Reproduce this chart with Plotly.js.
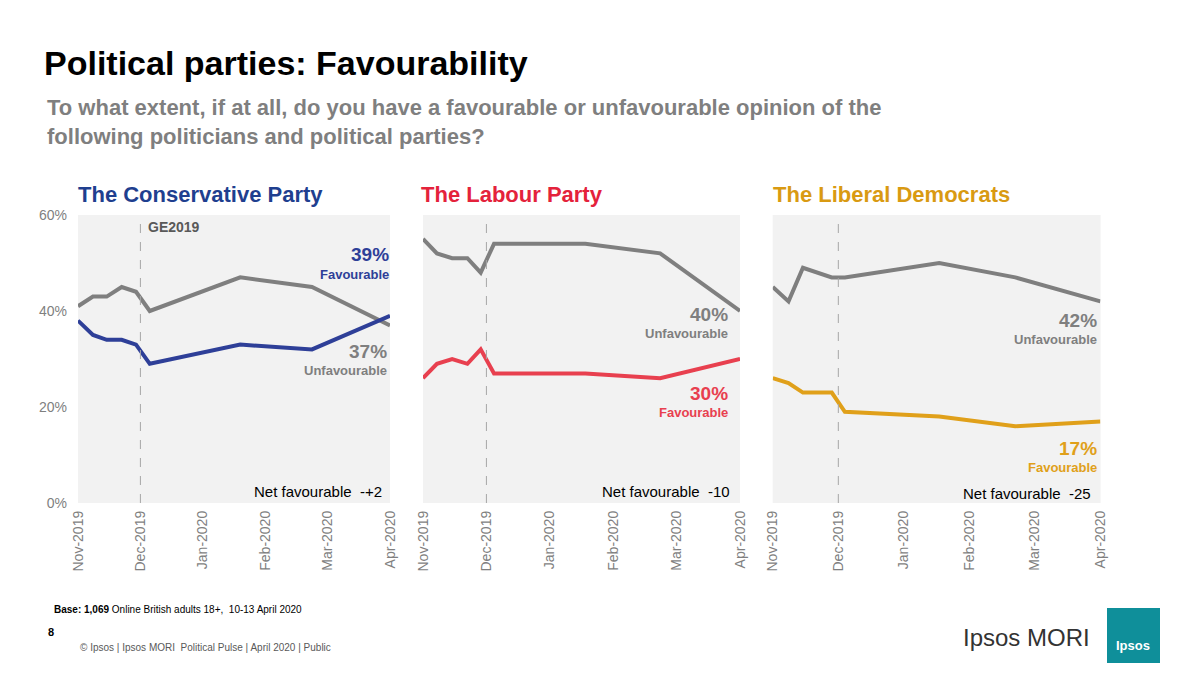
<!DOCTYPE html>
<html><head><meta charset="utf-8">
<script src="https://cdn.plot.ly/plotly-3.0.1.min.js"></script>
<style>body{margin:0}#c{width:1200px;height:675px}</style></head>
<body><div id="c"></div>
<script>
const months = ['Nov-2019','Dec-2019','Jan-2020','Feb-2020','Mar-2020','Apr-2020'];
// positions measured in month units from Nov-2019
const conX = [0, 0.24, 0.46, 0.7, 0.93, 1.15, 2.6, 3.75, 5];
const conFav = [38, 35, 34, 34, 33, 29, 33, 32, 39];
const conUnfav = [41, 43, 43, 45, 44, 40, 47, 45, 37];
const labX = [0, 0.22, 0.46, 0.7, 0.91, 1.12, 2.56, 3.74, 5];
const labFav = [26, 29, 30, 29, 32, 27, 27, 26, 30];
const labUnfav = [55, 52, 51, 51, 48, 54, 54, 52, 40];
const ldX = [0, 0.24, 0.46, 0.9, 1.1, 2.54, 3.7, 5];
const ldFav = [26, 25, 23, 23, 19, 18, 16, 17];
const ldUnfav = [45, 42, 49, 47, 47, 50, 47, 42];

const GREY = '#7f7f7f', BLUE = '#2e3f98', RED = '#e8404f', GOLD = '#e0a01a';
const doms = [[0.065, 0.325], [0.3525, 0.6167], [0.644, 0.917]];
const yd = [0.2548, 0.6815];

const data = [];
function add(i, x, fav, unf, col) {
  const ax = i === 0 ? '' : String(i + 1);
  data.push({x: x, y: unf, xaxis: 'x' + ax, yaxis: 'y' + ax, mode: 'lines', line: {color: GREY, width: 4}});
  data.push({x: x, y: fav, xaxis: 'x' + ax, yaxis: 'y' + ax, mode: 'lines', line: {color: col, width: 4}});
}
add(0, conX, conFav, conUnfav, BLUE);
add(1, labX, labFav, labUnfav, RED);
add(2, ldX, ldFav, ldUnfav, GOLD);

const layout = {
  width: 1200, height: 675, showlegend: false,
  margin: {l: 0, r: 0, t: 0, b: 0},
  paper_bgcolor: '#fff', plot_bgcolor: '#f2f2f2',
  font: {family: 'Arial, Liberation Sans', color: '#595959'},
  shapes: [], annotations: []
};
for (let i = 0; i < 3; i++) {
  const ax = i === 0 ? '' : String(i + 1);
  layout['xaxis' + ax] = {domain: doms[i], range: [0, 5], anchor: 'y' + ax,
    tickvals: [0, 1, 2, 3, 4, 5], ticktext: months, tickangle: -90, ticklabelstandoff: 4,
    tickfont: {size: 14, color: '#7f7f7f'}, showgrid: false, zeroline: false, showline: false};
  layout['yaxis' + ax] = {domain: yd, range: [0, 60], anchor: 'x' + ax, ticklabelstandoff: 10,
    showgrid: false, zeroline: false, showticklabels: i === 0,
    tickvals: [0, 20, 40, 60], ticktext: ['0%', '20%', '40%', '60%'],
    tickfont: {size: 14, color: '#7f7f7f'}};
  layout.shapes.push({type: 'rect', xref: 'paper', yref: 'paper', x0: doms[i][0], x1: doms[i][1],
    y0: yd[0], y1: yd[1], fillcolor: '#f2f2f2', line: {width: 0}, layer: 'below'});
  layout.shapes.push({type: 'line', xref: 'x' + ax, yref: 'y' + ax, x0: 1, x1: 1, y0: 0, y1: 60,
    line: {color: '#a6a6a6', width: 1, dash: 'dash'}});
}
function ann(x, y, text, size, color, anchor, bold) {
  layout.annotations.push({xref: 'paper', yref: 'paper', x: x / 1200, y: 1 - y / 675, text: bold ? '<b>' + text + '</b>' : text,
    showarrow: false, xanchor: anchor || 'left', yanchor: 'middle', align: anchor === 'right' ? 'right' : 'left',
    font: {size: size, color: color}});
}
ann(42, 63, 'Political parties: Favourability', 34, '#000', 'left', true);
ann(45, 122, 'To what extent, if at all, do you have a favourable or unfavourable opinion of the<br>following politicians and political parties?', 22, '#7f7f7f', 'left', true);
ann(76, 195, 'The Conservative Party', 22, '#1f3f8f', 'left', true);
ann(419, 195, 'The Labour Party', 22, '#e4223b', 'left', true);
ann(771, 195, 'The Liberal Democrats', 22, '#d99a12', 'left', true);
ann(146, 227, 'GE2019', 14, '#595959', 'left', true);
ann(391, 254, '39%', 19, BLUE, 'right', true);
ann(391, 274, 'Favourable', 13, BLUE, 'right', true);
ann(389, 351, '37%', 19, GREY, 'right', true);
ann(389, 370, 'Unfavourable', 13, GREY, 'right', true);
ann(384, 491, 'Net favourable  -+2', 15, '#000', 'right');
ann(730, 314, '40%', 19, GREY, 'right', true);
ann(730, 333, 'Unfavourable', 13, GREY, 'right', true);
ann(730, 393, '30%', 19, RED, 'right', true);
ann(730, 412, 'Favourable', 13, RED, 'right', true);
ann(732, 491, 'Net favourable  -10', 15, '#000', 'right');
ann(1099, 320, '42%', 19, GREY, 'right', true);
ann(1099, 339, 'Unfavourable', 13, GREY, 'right', true);
ann(1099, 448, '17%', 19, GOLD, 'right', true);
ann(1099, 467, 'Favourable', 13, GOLD, 'right', true);
ann(1093, 493, 'Net favourable  -25', 15, '#000', 'right');
ann(52, 609, '<b>Base: 1,069</b> Online British adults 18+,  10-13 April 2020', 10, '#000');
ann(46, 632, '8', 11, '#000', 'left', true);
ann(78, 647, '© Ipsos | Ipsos MORI  Political Pulse | April 2020 | Public', 10, '#595959');
ann(1092, 637, 'Ipsos MORI', 24, '#333', 'right');
layout.shapes.push({type: 'rect', xref: 'paper', yref: 'paper', x0: 1107 / 1200, x1: 1160 / 1200,
  y0: 1 - 663 / 675, y1: 1 - 608 / 675, fillcolor: '#0f8f9a', line: {width: 0}});
ann(1133, 645, 'Ipsos', 13, '#fff', 'center', true);
Plotly.newPlot('c', data, layout, {staticPlot: true});
</script></body></html>
